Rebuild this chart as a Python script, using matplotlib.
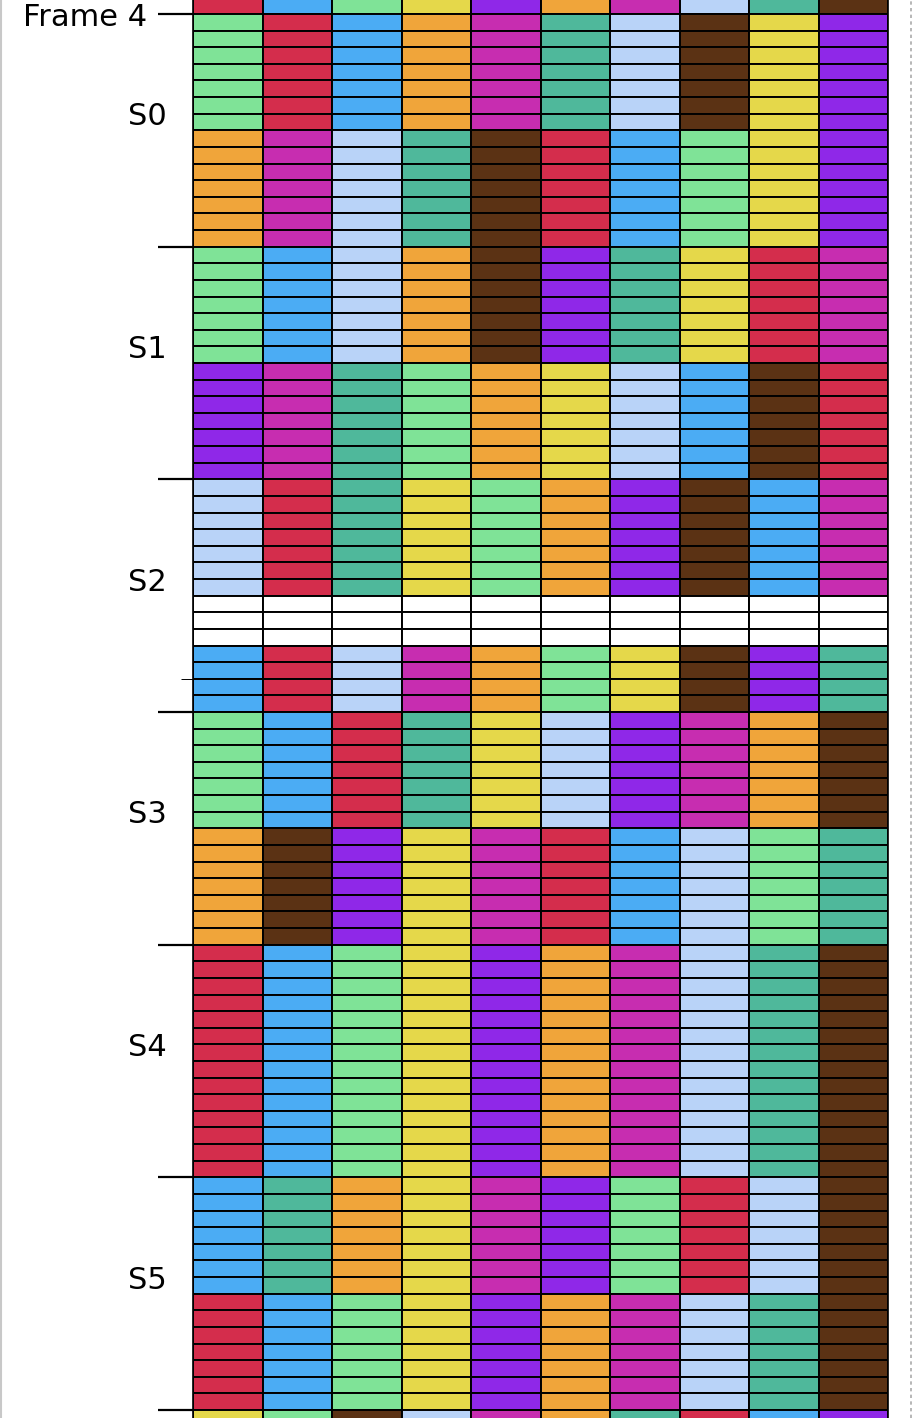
import matplotlib
matplotlib.use('Agg')
from matplotlib import pyplot as plt
from matplotlib.lines import Line2D
import numpy as np

palette = {
    'red': '#d42d4c',
    'blue': '#4bacf4',
    'green': '#7fe397',
    'orange': '#f0a53a',
    'magenta': '#c72db0',
    'teal': '#4fb89b',
    'lightblue': '#b9d3f8',
    'brown': '#5b3214',
    'yellow': '#e5d84a',
    'purple': '#8f28e8',
    'empty': '#ffffff',
}

# blocks from top to bottom: (number of rows, colour of each of the 10 columns)
block_rows = [1, 7, 7, 7, 7, 7, 3, 4, 7, 7, 14, 7, 7, 1]
block_colors = [
    ['red', 'blue', 'green', 'yellow', 'purple', 'orange', 'magenta', 'lightblue', 'teal', 'brown'],
    ['green', 'red', 'blue', 'orange', 'magenta', 'teal', 'lightblue', 'brown', 'yellow', 'purple'],
    ['orange', 'magenta', 'lightblue', 'teal', 'brown', 'red', 'blue', 'green', 'yellow', 'purple'],
    ['green', 'blue', 'lightblue', 'orange', 'brown', 'purple', 'teal', 'yellow', 'red', 'magenta'],
    ['purple', 'magenta', 'teal', 'green', 'orange', 'yellow', 'lightblue', 'blue', 'brown', 'red'],
    ['lightblue', 'red', 'teal', 'yellow', 'green', 'orange', 'purple', 'brown', 'blue', 'magenta'],
    ['empty'] * 10,
    ['blue', 'red', 'lightblue', 'magenta', 'orange', 'green', 'yellow', 'brown', 'purple', 'teal'],
    ['green', 'blue', 'red', 'teal', 'yellow', 'lightblue', 'purple', 'magenta', 'orange', 'brown'],
    ['orange', 'brown', 'purple', 'yellow', 'magenta', 'red', 'blue', 'lightblue', 'green', 'teal'],
    ['red', 'blue', 'green', 'yellow', 'purple', 'orange', 'magenta', 'lightblue', 'teal', 'brown'],
    ['blue', 'teal', 'orange', 'yellow', 'magenta', 'purple', 'green', 'red', 'lightblue', 'brown'],
    ['red', 'blue', 'green', 'yellow', 'purple', 'orange', 'magenta', 'lightblue', 'teal', 'brown'],
    ['yellow', 'green', 'brown', 'lightblue', 'magenta', 'orange', 'teal', 'red', 'blue', 'purple'],
]

section_labels = ['S0', 'S1', 'S2', 'S3', 'S4', 'S5']
section_rows = 14
label_offset = 6
frame_label = 'Frame 4'
marker_row = 40

fig = plt.figure(figsize=(9.14, 14.18), dpi=100)
ax = fig.add_axes([193 / 914, 0, 695 / 914, 1])

start = -1
for n, cols in zip(block_rows, block_colors):
    rows = np.arange(start, start + n)
    for c, name in enumerate(cols):
        ax.barh(rows + 0.5, 1, left=c, height=1, color=palette[name],
                edgecolor='black', linewidth=1.4)
    start += n

row_px = 1396 / 84
ax.set_xlim(0, 10)
ax.set_ylim(84 + 8 / row_px, -14 / row_px)
ax.set_xticks([])

bounds = np.arange(0, 85, section_rows)
ax.set_yticks(bounds, [frame_label] + [''] * (len(bounds) - 1))
centers = list(bounds[:-1] + label_offset)
minor_pos = centers[:3] + [marker_row] + centers[3:]
minor_lab = section_labels[:3] + [''] + section_labels[3:]
ax.set_yticks(minor_pos, minor_lab, minor=True)
ax.tick_params(axis='y', which='major', length=25, width=1.6, pad=8, labelsize=22)
ax.tick_params(axis='y', which='minor', length=9, width=0.7, pad=10, labelsize=22)
for t, lab in zip(ax.yaxis.get_minor_ticks(), minor_lab):
    if lab:
        t.tick1line.set_visible(False)

for s in ['top', 'bottom']:
    ax.spines[s].set_visible(False)
ax.spines['left'].set_linewidth(1.2)
ax.spines['right'].set_linewidth(1.2)

fig.add_artist(Line2D([0.001, 0.001], [0, 1], color='#c8c8c8', lw=1.5))
fig.add_artist(Line2D([0.997, 0.997], [0, 1], color='#aaaaaa', lw=1.2, ls=(0, (2, 2))))

fig.savefig('out.png', dpi=100)
